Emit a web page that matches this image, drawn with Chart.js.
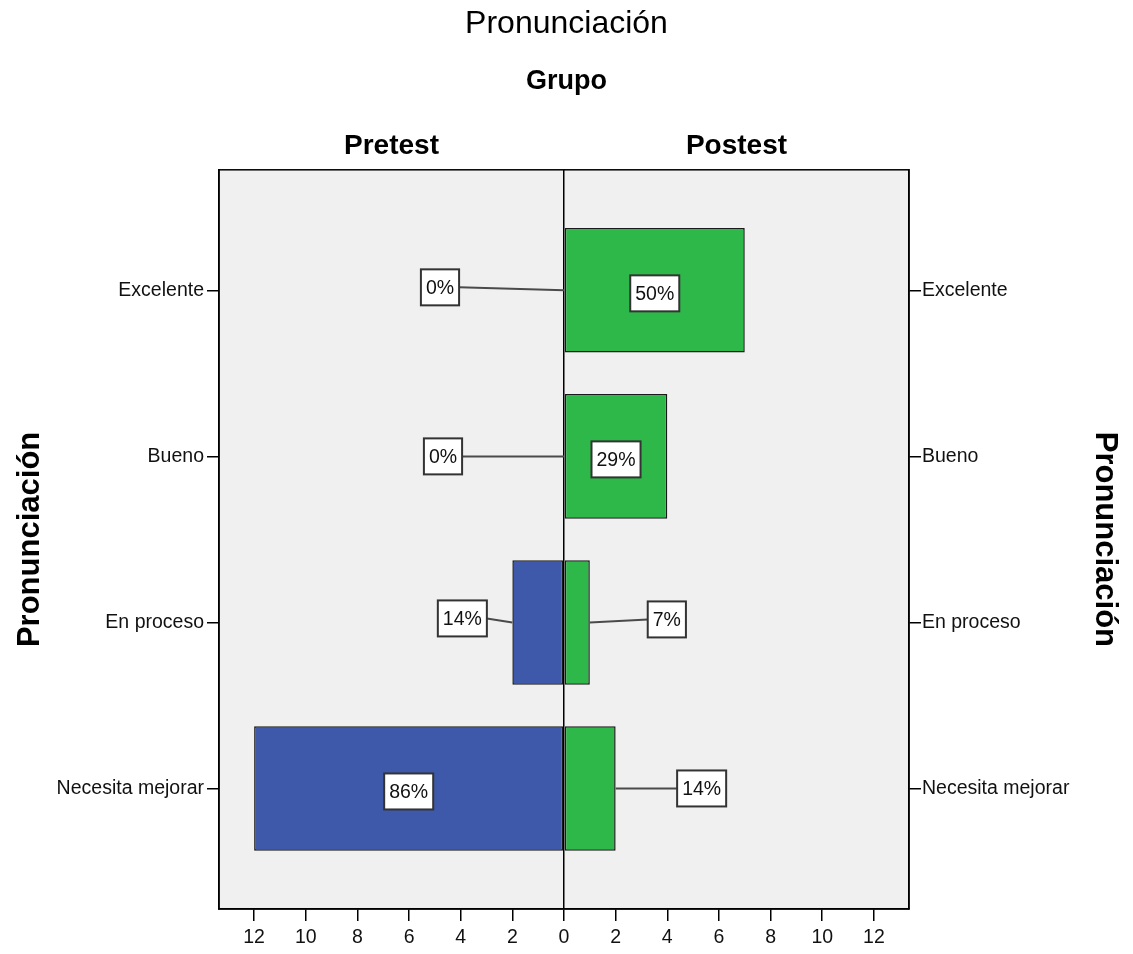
<!DOCTYPE html>
<html lang="es">
<head>
<meta charset="utf-8">
<title>Pronunciación</title>
<script src="https://cdn.jsdelivr.net/npm/chart.js@4.4.1/dist/chart.umd.min.js"></script>
<style>
  html, body { margin: 0; padding: 0; background: #fff; }
  #wrap { width: 1133px; height: 954px; position: relative; }
</style>
</head>
<body>
<div id="wrap"><canvas id="chart"></canvas></div>
<script>
// Category labels, groups and counts per group
const categories = ['Excelente', 'Bueno', 'En proceso', 'Necesita mejorar'];
const groups = ['Pretest', 'Postest'];
const pretestCounts = [0, 0, 2, 12];
const postestCounts = [7, 4, 1, 2];
const countTicks = [-12, -10, -8, -6, -4, -2, 0, 2, 4, 6, 8, 10, 12];

const FONT = '"Liberation Sans", Arial, Helvetica, sans-serif';
const BLUE = '#3e58aa';
const GREEN = '#2eb84a';
const PLOT_BG = '#f0f0f0';

// Where each percentage box goes: [dx, dy] in px from the bar end, or null to centre it in the bar
const calloutPlacement = {
  Pretest: [[-124, -3], [-121, 0], [-50, -4], null],
  Postest: [null, null, [77, -3], [86, 0]]
};

const categoryIndex = categories.map((_, i) => i);

// Plot frame, grey panel and group headings
const framePlugin = {
  id: 'frame',
  beforeDraw(chart) {
    const { ctx, chartArea: a } = chart;
    ctx.save();
    ctx.fillStyle = PLOT_BG;
    ctx.fillRect(a.left, a.top, a.right - a.left, a.bottom - a.top);
    ctx.restore();
  },
  afterDraw(chart) {
    const { ctx, chartArea: a, scales } = chart;
    ctx.save();
    ctx.strokeStyle = '#000';
    ctx.lineWidth = 1.5;
    ctx.strokeRect(a.left, a.top, a.right - a.left, a.bottom - a.top);
    const zero = scales.x.getPixelForValue(0);
    ctx.font = `bold 28px ${FONT}`;
    ctx.fillStyle = '#000';
    ctx.textAlign = 'center';
    ctx.textBaseline = 'alphabetic';
    ctx.fillText(groups[0], (a.left + zero) / 2, a.top - 16);
    ctx.fillText(groups[1], (zero + a.right) / 2, a.top - 16);
    ctx.restore();
  }
};

// Percentage boxes with leader lines
const calloutPlugin = {
  id: 'callouts',
  afterDatasetsDraw(chart) {
    const ctx = chart.ctx;
    ctx.save();
    ctx.font = `19.5px ${FONT}`;
    chart.data.datasets.forEach((ds, di) => {
      const meta = chart.getDatasetMeta(di);
      const counts = ds.counts;
      const total = counts.reduce((s, v) => s + v, 0);
      meta.data.forEach((bar, i) => {
        const p = bar.getProps(['x', 'y', 'base'], true);
        const text = Math.round(counts[i] / total * 100) + '%';
        const w = ctx.measureText(text).width + 10;
        const h = 36;
        const place = calloutPlacement[ds.label][i];
        let bx, by;
        if (!place) {
          bx = (p.x + p.base) / 2;
          by = p.y + 3;
        } else {
          bx = p.x + place[0];
          by = p.y + place[1];
          const edge = place[0] < 0 ? bx + w / 2 : bx - w / 2;
          ctx.strokeStyle = '#4a4a4a';
          ctx.lineWidth = 2;
          ctx.beginPath();
          ctx.moveTo(p.x, p.y);
          ctx.lineTo(edge, by);
          ctx.stroke();
        }
        ctx.fillStyle = '#fff';
        ctx.fillRect(bx - w / 2, by - h / 2, w, h);
        ctx.strokeStyle = '#333';
        ctx.lineWidth = 2;
        ctx.strokeRect(bx - w / 2, by - h / 2, w, h);
        ctx.fillStyle = '#111';
        ctx.textAlign = 'center';
        ctx.textBaseline = 'middle';
        ctx.fillText(text, bx, by + 1);
      });
    });
    ctx.restore();
  }
};

const categoryAxis = (position, width, pad, titlePad) => ({
  type: 'linear',
  position,
  min: -0.726,
  max: 3.726,
  reverse: true,
  stacked: true,
  offset: false,
  afterBuildTicks: s => { s.ticks = categoryIndex.map(v => ({ value: v })); },
  afterFit: s => { s.width = width; },
  ticks: {
    padding: pad,
    color: '#111',
    font: { family: FONT, size: 19.5 },
    callback: v => categories[v]
  },
  grid: { offset: false, drawOnChartArea: false, drawTicks: true, tickLength: 12, color: '#000', lineWidth: 1.5 },
  border: { display: true, color: '#000', width: 1.5 },
  title: {
    display: true,
    text: 'Pronunciación',
    color: '#000',
    font: { family: FONT, size: 31, weight: 'bold' },
    padding: { top: titlePad, bottom: 0 }
  }
});

new Chart(document.getElementById('chart'), {
  type: 'bar',
  data: {
    datasets: [
      {
        label: groups[0],
        counts: pretestCounts,
        data: pretestCounts.map((v, i) => ({ x: -v, y: i })),
        backgroundColor: BLUE
      },
      {
        label: groups[1],
        counts: postestCounts,
        data: postestCounts.map((v, i) => ({ x: v, y: i })),
        backgroundColor: GREEN
      }
    ]
  },
  options: {
    indexAxis: 'y',
    responsive: true,
    maintainAspectRatio: false,
    animation: false,
    layout: { padding: 0 },
    datasets: {
      bar: {
        borderColor: '#1a1a1a',
        borderWidth: 1.5,
        borderSkipped: false,
        categoryPercentage: 1,
        barPercentage: 0.75
      }
    },
    scales: {
      x: {
        type: 'linear',
        min: -13.36,
        max: 13.36,
        stacked: true,
        afterBuildTicks: s => { s.ticks = countTicks.map(v => ({ value: v })); },
        afterFit: s => { s.height = 45; },
        ticks: {
          padding: 5,
          color: '#111',
          font: { family: FONT, size: 19.5 },
          maxRotation: 0,
          autoSkip: false,
          callback: v => String(Math.abs(v))
        },
        grid: {
          drawOnChartArea: true,
          drawTicks: true,
          tickLength: 12,
          lineWidth: 1.5,
          color: c => (c.tick && c.tick.value === 0 ? '#000' : 'rgba(0,0,0,0)'),
          tickColor: '#000'
        },
        border: { display: true, color: '#000', width: 1.5 }
      },
      y: categoryAxis('left', 219, 3, 12),
      y2: categoryAxis('right', 224, 1, 10)
    },
    plugins: {
      legend: { display: false },
      tooltip: { enabled: false },
      title: {
        display: true,
        text: 'Pronunciación',
        color: '#000',
        font: { family: FONT, size: 32, weight: 'normal' },
        padding: { top: 5, bottom: 0 }
      },
      subtitle: {
        display: true,
        text: 'Grupo',
        color: '#000',
        font: { family: FONT, size: 27, weight: 'bold' },
        padding: { top: 22, bottom: 72 }
      }
    }
  },
  plugins: [framePlugin, calloutPlugin]
});
</script>
</body>
</html>
